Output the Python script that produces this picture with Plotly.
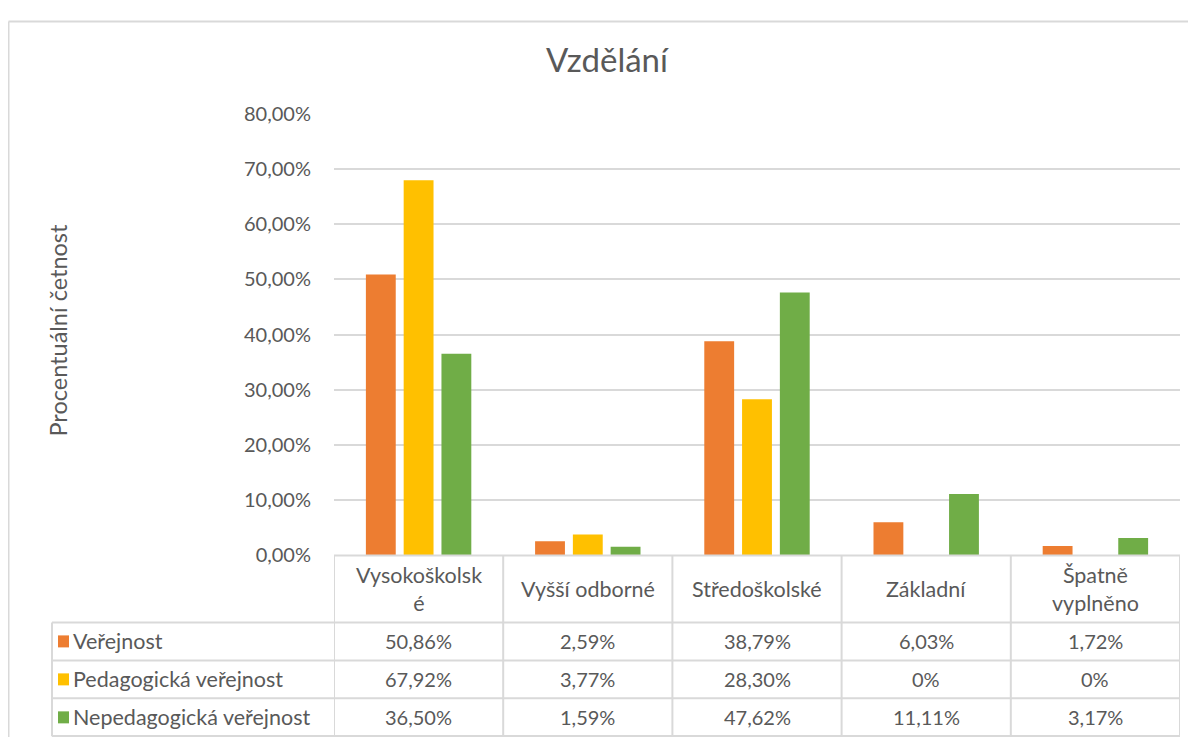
import plotly.graph_objects as go

# ---------------- data ----------------
categories = ["Vysokoškolské", "Vyšší odborné", "Středoškolské", "Základní", "Špatně vyplněno"]
header_labels = ["Vysokoškolsk<br>é", "Vyšší odborné", "Středoškolské", "Základní", "Špatně<br>vyplněno"]
series_names = ["Veřejnost", "Pedagogická veřejnost", "Nepedagogická veřejnost"]
verejnost = [0.5086, 0.0259, 0.3879, 0.0603, 0.0172]
pedagogicka = [0.6792, 0.0377, 0.2830, 0.0, 0.0]
nepedagogicka = [0.3650, 0.0159, 0.4762, 0.1111, 0.0317]
y_ticks = [0, 0.1, 0.2, 0.3, 0.4, 0.5, 0.6, 0.7, 0.8]

series_values = [verejnost, pedagogicka, nepedagogicka]
colors = ["#ED7D31", "#FFC000", "#70AD47"]

W, H = 1188, 740
FONT = "Lato"
TXT = "#595959"
GRID = "#d9d9d9"

# map target window pixels to figure paper coordinates (page offset compensation)
def px_x(p):
    return min(max((p - 8) / W, 0.0), 1.0)

def px_y(p):
    f = p / 0.968 - 21
    return min(max(1 - f / H, 0.0), 1.0)

def fmt(v):
    if v == 0:
        return "0%"
    return f"{v*100:.2f}".replace(".", ",") + "%"

fig = go.Figure()
for name, vals, col in zip(series_names, series_values, colors):
    fig.add_trace(go.Bar(x=categories, y=vals, name=name, marker=dict(color=col, line=dict(width=0))))

plot_left, plot_right = 334, 1180
plot_top, plot_bottom = 113, 555
row_bounds = [555, 622, 660, 698, 736]
table_left = 52
TS = 20      # numbers / tick font size
LS = 21.5    # text label font size

shapes = []
# outer chart frame (top and left edges)
shapes.append(dict(type="line", xref="paper", yref="paper", x0=0.5 / W, x1=1, y0=1 - 0.5 / H, y1=1 - 0.5 / H,
                   line=dict(color=GRID, width=2), layer="below"))
shapes.append(dict(type="line", xref="paper", yref="paper", x0=0.5 / W, x1=0.5 / W, y0=0, y1=1 - 0.5 / H,
                   line=dict(color=GRID, width=2), layer="below"))
# horizontal table lines
for i, yb in enumerate(row_bounds):
    x0 = plot_left if i == 0 else table_left
    shapes.append(dict(type="line", xref="paper", yref="paper", x0=px_x(x0), x1=px_x(plot_right),
                       y0=max(px_y(yb), 1 / H), y1=max(px_y(yb), 1 / H), line=dict(color=GRID, width=2)))
# vertical table lines at category boundaries
n = len(categories)
for k in range(n + 1):
    shapes.append(dict(type="line", xref="x", yref="paper", x0=k - 0.5, x1=k - 0.5,
                       y0=px_y(row_bounds[-1]), y1=px_y(row_bounds[0]), line=dict(color=GRID, width=2)))
# left border of legend column
shapes.append(dict(type="line", xref="paper", yref="paper", x0=px_x(table_left), x1=px_x(table_left),
                   y0=px_y(row_bounds[-1]), y1=px_y(row_bounds[1]), line=dict(color=GRID, width=2)))

annotations = []
# header labels
for k, lab in enumerate(header_labels):
    annotations.append(dict(x=k, y=px_y((row_bounds[0] + row_bounds[1]) / 2), xref="x", yref="paper",
                            text=lab, showarrow=False, font=dict(family=FONT, size=LS, color=TXT),
                            xanchor="center", yanchor="middle"))
# data rows
for r, (name, vals, col) in enumerate(zip(series_names, series_values, colors)):
    yc = (row_bounds[r + 1] + row_bounds[r + 2]) / 2
    shapes.append(dict(type="rect", xref="paper", yref="paper", x0=px_x(58), x1=px_x(69),
                       y0=px_y(yc + 6), y1=px_y(yc - 6), fillcolor=col, line=dict(width=0)))
    annotations.append(dict(x=px_x(71), y=px_y(yc), xref="paper", yref="paper", text=name,
                            showarrow=False, font=dict(family=FONT, size=LS, color=TXT),
                            xanchor="left", yanchor="middle"))
    for k, v in enumerate(vals):
        annotations.append(dict(x=k, y=px_y(yc), xref="x", yref="paper", text=fmt(v), showarrow=False,
                                font=dict(family=FONT, size=TS, color=TXT),
                                xanchor="center", yanchor="middle"))
# y axis title
annotations.append(dict(x=px_x(58), y=px_y(330), xref="paper", yref="paper", text="Procentuální četnost",
                        textangle=-90, showarrow=False, font=dict(family=FONT, size=23.5, color=TXT),
                        xanchor="center", yanchor="middle"))
# title
annotations.append(dict(x=px_x(607), y=px_y(58), xref="paper", yref="paper", text="Vzdělání",
                        showarrow=False, font=dict(family=FONT, size=33, color=TXT),
                        xanchor="center", yanchor="middle"))

fig.update_layout(
    width=W, height=H,
    margin=dict(l=0, r=0, t=0, b=0),
    paper_bgcolor="white", plot_bgcolor="white",
    separators=", ",
    showlegend=False,
    barmode="group", bargap=0.33, bargroupgap=0.21,
    font=dict(family=FONT, color=TXT),
    xaxis=dict(domain=[px_x(plot_left), px_x(plot_right)], showticklabels=False, showgrid=False,
               zeroline=False, showline=False, range=[-0.5, n - 0.5], fixedrange=True),
    yaxis=dict(domain=[px_y(plot_bottom), px_y(plot_top)], range=[0, 0.8], tickvals=y_ticks,
               tickformat=".2%", showgrid=True, gridcolor=GRID, gridwidth=2, zeroline=False,
               showline=False, tickfont=dict(family=FONT, size=TS, color=TXT), ticklabelstandoff=22),
    shapes=shapes,
    annotations=annotations,
)

fig.write_html("out.html")
